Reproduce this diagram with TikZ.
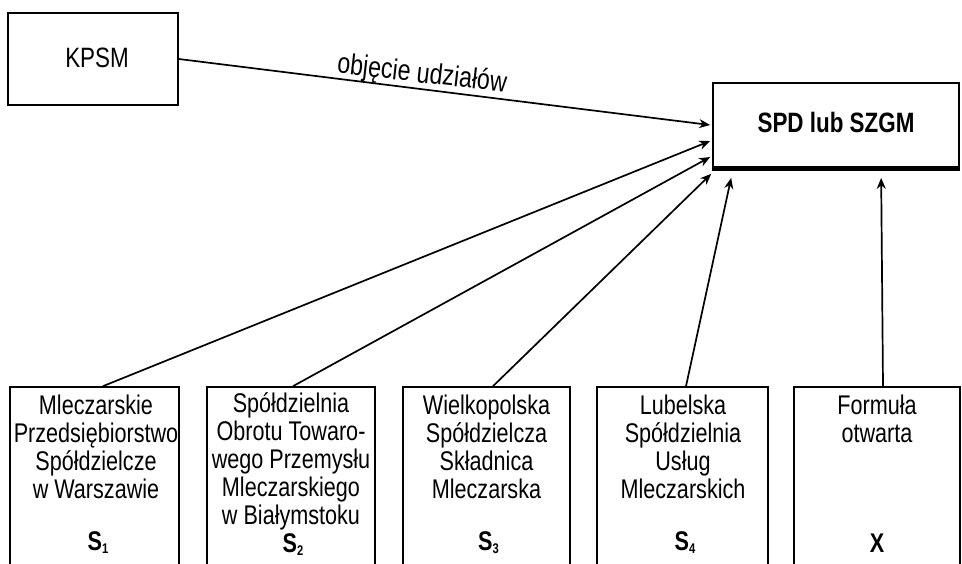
\documentclass[tikz,border=0pt]{standalone}
\usepackage{fontspec}
\setmainfont{Liberation Sans}[FakeStretch=0.8]
\usetikzlibrary{arrows.meta}

\begin{document}
\begin{tikzpicture}[x=0.5pt, y=-0.5pt, line width=0.85pt,
  box/.style={draw, inner sep=0pt},
  txt/.style={align=center, anchor=north, inner sep=0pt, font=\fontsize{13.5}{14}\selectfont},
  sym/.style={inner sep=0pt, font=\fontsize{13.5}{14}\selectfont\bfseries},
  arr/.style={-{Stealth[length=5.5pt, width=4.5pt]}}]

\useasboundingbox (0,0) rectangle (962,563);
\clip (0,0) rectangle (962,563);

\node (kpsm) at (93,59) [box, minimum width=85pt, minimum height=46pt] {};
\node (kpsmt) at (97,58) [inner sep=0pt, font=\fontsize{14}{16}\selectfont] {KPSM};

\node (spd) at (836,125) [box, minimum width=123pt, minimum height=42pt] {};
\node (spdt) at (836,122) [sym, font=\fontsize{14}{16}\selectfont\bfseries] {SPD lub SZGM};
\draw [line width=1.8pt] ([yshift=-0.5pt]spd.south west) -- ([yshift=-0.5pt]spd.south east);

\node (b1) at (94.5,493.5) [box, minimum width=84.5pt, minimum height=106.5pt] {};
\node (b2) at (291,493.5) [box, minimum width=84pt, minimum height=106.5pt] {};
\node (b3) at (486.5,493.5) [box, minimum width=83.5pt, minimum height=106.5pt] {};
\node (b4) at (682.5,493.5) [box, minimum width=85.5pt, minimum height=106.5pt] {};
\node (b5) at (877,493.5) [box, minimum width=83pt, minimum height=106.5pt] {};

\node (b1t) at (96,394) [txt] {Mleczarskie\\Przedsiębiorstwo\\Spółdzielcze\\w Warszawie};
\node (b2t) at (291,392) [txt] {Spółdzielnia\\Obrotu Towaro-\\wego Przemysłu\\Mleczarskiego\\w Białymstoku};
\node (b3t) at (486.5,394) [txt] {Wielkopolska\\Spółdzielcza\\Składnica\\Mleczarska};
\node (b4t) at (683,394) [txt] {Lubelska\\Spółdzielnia\\Usług\\Mleczarskich};
\node (b5t) at (877,394) [txt] {Formuła\\otwarta};

\node (s1) at (98,543) [sym] {S\raisebox{-1.5pt}{\scriptsize 1}};
\node (s2) at (293,545) [sym] {S\raisebox{-1.5pt}{\scriptsize 2}};
\node (s3) at (488.5,543) [sym] {S\raisebox{-1.5pt}{\scriptsize 3}};
\node (s4) at (685,543) [sym] {S\raisebox{-1.5pt}{\scriptsize 4}};
\node (x) at (877,543) [sym] {X};

\draw [arr] (kpsm.east) -- ([xshift=-1pt]spd.west);
\node (udz) at (422,75) [rotate=-6.5, inner sep=0pt, font=\fontsize{14.5}{16}\selectfont] {objęcie udziałów};

\draw [arr] ([xshift=4.25pt]b1.north) -- ([xshift=-1pt, yshift=-8pt]spd.west);
\draw [arr] ([xshift=1pt]b2.north) -- ([xshift=-1pt, yshift=-16pt]spd.west);
\draw [arr] ([xshift=3.25pt]b3.north) -- ([xshift=-0.5pt, yshift=-3pt]spd.south west);
\draw [arr] ([xshift=1.75pt]b4.north) -- ([xshift=9.5pt, yshift=-5pt]spd.south west);
\draw [arr] ([xshift=3pt]b5.north) -- ([xshift=84.5pt, yshift=-5pt]spd.south west);

\end{tikzpicture}
\end{document}
